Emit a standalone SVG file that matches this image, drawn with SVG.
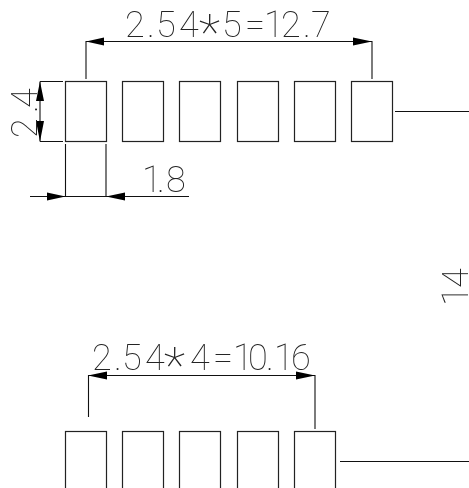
<svg xmlns="http://www.w3.org/2000/svg" width="469" height="488" viewBox="0 0 469 488">
<style>
.pad{fill:#fff;stroke:#222;stroke-width:1.2}
.ln{fill:none;stroke:#111;stroke-width:1.1}
.ar{fill:#000}
.t{font-family:"Roboto","Liberation Sans",sans-serif;font-weight:100;font-size:36px;fill:#222}
.st{font-size:50px}
</style>
<rect width="469" height="488" fill="#fff"/>
<g id="pads-top">
<rect id="pt1" class="pad" x="65.5" y="81.5" width="41" height="60"/>
<rect id="pt2" class="pad" x="122.5" y="81.5" width="41" height="60"/>
<rect id="pt3" class="pad" x="179.5" y="81.5" width="41" height="60"/>
<rect id="pt4" class="pad" x="237.5" y="81.5" width="41" height="60"/>
<rect id="pt5" class="pad" x="294.5" y="81.5" width="41" height="60"/>
<rect id="pt6" class="pad" x="351.5" y="81.5" width="41" height="60"/>
</g>
<g id="pads-bottom">
<rect id="pb1" class="pad" x="65.5" y="431.5" width="41" height="70"/>
<rect id="pb2" class="pad" x="122.5" y="431.5" width="41" height="70"/>
<rect id="pb3" class="pad" x="179.5" y="431.5" width="41" height="70"/>
<rect id="pb4" class="pad" x="237.5" y="431.5" width="41" height="70"/>
<rect id="pb5" class="pad" x="294.5" y="431.5" width="41" height="70"/>
</g>
<g id="connectors">
<path class="ln" d="M86 79V41.500H372V79M395 111.500H469M40 81.500H63M40 141.500H63M40 81.500V141.500M65.500 144V197M106 144V197M30 196.500H189M88.500 417V375.500H315V429M340 461.500H469"/>
<path class="ar" d="M86 41.500L104 37.500V45.500ZM372 41.500L353 37.500V45.500ZM40 81.500L36 101H44ZM40 141.500L36 121H44ZM65.500 196.500L47 192.500V200.500ZM106 196.500L125 192.500V200.500ZM88 375.500L107 371.500V379.500ZM315 375.500L296 371.500V379.500Z"/>
</g>
<g id="labels" opacity="0.99">
<text class="t" y="37" x="125 147 156 179 199 222 245 264 281 303 311">2.54<tspan class="st" dy="13">*</tspan><tspan dy="-13">5=12.7</tspan></text>
<text class="t" y="370" x="92 114 122 145 164 190 213 233 248 266 274 291">2.54<tspan class="st" dy="13">*</tspan><tspan dy="-13">4=10.16</tspan></text>
<text class="t" y="192" x="142 157 166">1.8</text>
<text class="t" transform="translate(37 138) rotate(-90)" x="0 25 30">2.4</text>
<text class="t" transform="translate(468 306) rotate(-90)" x="0 18">14</text>
</g>
</svg>
